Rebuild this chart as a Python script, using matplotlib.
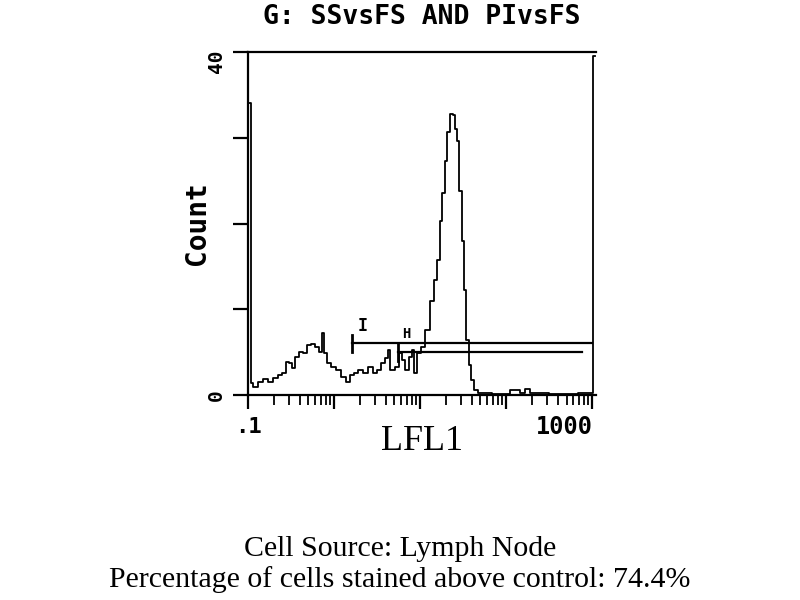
import matplotlib
matplotlib.use("Agg")
import matplotlib.pyplot as plt
import numpy as np

# LFL1 channel values and counts
lfl1 = [0.1, 0.105, 0.111, 0.12, 0.138, 0.158, 0.180, 0.206, 0.236, 0.262, 0.284, 0.308,
        0.333, 0.371, 0.403, 0.461, 0.499, 0.570, 0.634, 0.687, 0.745, 0.785, 0.851,
        0.973, 1.11, 1.27, 1.46, 1.62, 1.75, 2.01, 2.29, 2.62, 3.00, 3.25, 3.72, 4.13,
        4.24, 4.72, 5.40, 5.85, 6.34, 7.06, 7.65, 8.29, 8.75, 9.48, 10.8, 12.1, 13.8,
        14.9, 16.2, 17.5, 18.5, 20.0, 21.2, 22.9, 24.8, 26.2, 27.7, 29.2, 31.6, 33.4,
        35.2, 38.1, 40.3, 44.8, 49.9, 85.1, 134, 153, 175, 200, 425, 948, 1080]
counts = [34.0, 34.0, 1.4, 0.9, 1.5, 1.9, 1.5, 2.0, 2.3, 2.6, 3.8, 3.7,
          3.1, 4.4, 5.0, 4.9, 5.8, 6.0, 5.6, 5.0, 7.2, 4.9, 3.7,
          3.3, 2.9, 2.1, 1.5, 2.3, 2.6, 2.9, 2.6, 3.3, 2.6, 2.9, 3.7, 4.3,
          5.2, 2.9, 3.3, 4.9, 4.1, 2.9, 4.4, 5.2, 2.6, 4.9, 5.6, 7.6, 11.0,
          13.4, 15.7, 20.3, 23.5, 27.3, 30.7, 32.8, 32.6, 31.0, 29.6, 23.8, 18.0, 12.2,
          6.4, 3.5, 1.7, 0.6, 0.2, 0.1, 0.6, 0.2, 0.7, 0.2, 0.1, 0.2, 39.5]

# Markers (gates): start, end, level, label
marker_names = ["I", "H"]
marker_start = [1.62, 5.5]
marker_end = [1000, 760]
marker_level = [6.05, 5.0]
marker_label_x = [2.15, 6.9]
marker_label_y = [8.1, 7.1]

title = "G: SSvsFS AND PIvsFS"
xlabel = "LFL1"
ylabel = "Count"
caption1 = "Cell Source: Lymph Node"
caption2 = "Percentage of cells stained above control: 74.4%"

MONO = "DejaVu Sans Mono"

fig = plt.figure(figsize=(8, 6), dpi=100)
ax = fig.add_axes([0.31, 0.3417, 0.435, 0.5716])

ax.plot(lfl1, counts, drawstyle="steps-mid", color="black", lw=1.3)

for name, s, e, lv, lx, ly in zip(marker_names, marker_start, marker_end, marker_level,
                                  marker_label_x, marker_label_y):
    ax.plot([s, e], [lv, lv], color="black", lw=1.6)
    ax.plot([s, s], [lv - 1.0, lv + 1.0], color="black", lw=2)
    ax.text(lx, ly, name, ha="center", va="center", family=MONO,
            fontweight="bold", fontsize=12 if name == "I" else 10)

ax.set_xscale("log")
ax.set_xlim(0.1, 1100)
ax.set_ylim(0, 40)

ax.spines["right"].set_visible(False)
for side in ["left", "bottom", "top"]:
    ax.spines[side].set_linewidth(1.6)

ax.set_yticks([0, 10, 20, 30, 40])
ax.set_yticklabels([])
ax.tick_params(axis="y", direction="out", length=11, width=1.6)
yt = ax.get_yaxis_transform()
ax.text(-0.09, 0, "0", transform=yt, rotation=90, ha="center", va="center",
        family=MONO, fontweight="bold", fontsize=14)
ax.text(-0.09, 38.9, "40", transform=yt, rotation=90, ha="center", va="center",
        family=MONO, fontweight="bold", fontsize=14)

ax.set_xticks([0.1, 1, 10, 100, 1000])
ax.set_xticklabels([])
ax.xaxis.set_minor_locator(matplotlib.ticker.LogLocator(base=10, subs=np.arange(2, 10)))
ax.xaxis.set_minor_formatter(matplotlib.ticker.NullFormatter())
ax.tick_params(axis="x", which="major", direction="out", length=10, width=1.6)
ax.tick_params(axis="x", which="minor", direction="out", length=7, width=1.3)

xt = ax.get_xaxis_transform()
ax.text(0.1, -0.065, ".1", transform=xt, ha="center", va="top",
        family=MONO, fontweight="bold", fontsize=16)
ax.text(1000, -0.058, "1000", transform=xt, ha="right", va="top",
        family=MONO, fontweight="bold", fontsize=17)

ax.set_xlabel(xlabel, family="Liberation Serif", fontsize=26, labelpad=8)
ax.set_ylabel(ylabel, family=MONO, fontweight="bold", fontsize=20, labelpad=12)
ax.set_title(title, family=MONO, fontweight="bold", fontsize=19, pad=20)

fig.text(0.5, 1 - 549 / 600, caption1, ha="center", va="center",
         family="Liberation Serif", fontsize=21.5)
fig.text(0.5, 1 - 580 / 600, caption2, ha="center", va="center",
         family="Liberation Serif", fontsize=21.5)

fig.savefig("out.png", dpi=100)
